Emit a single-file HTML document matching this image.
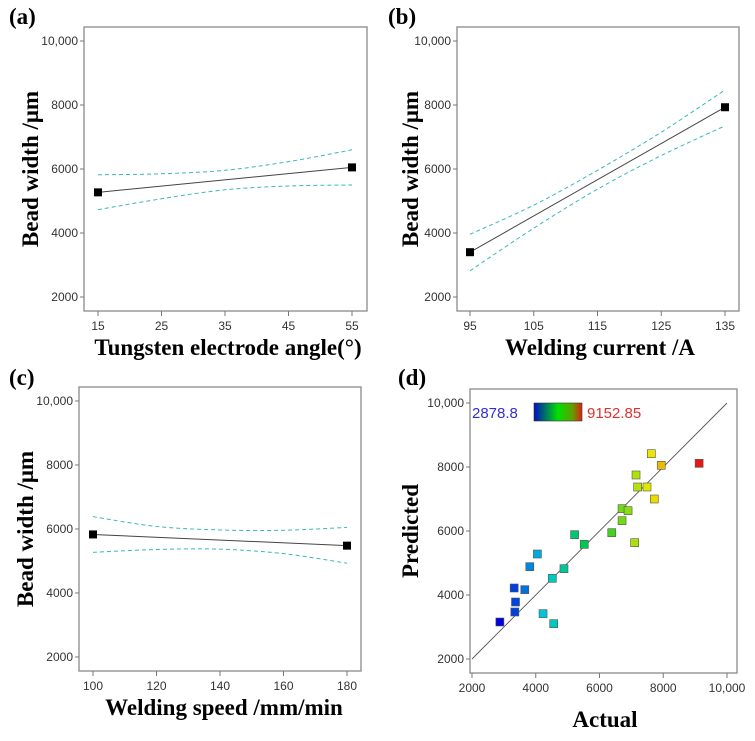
<!DOCTYPE html>
<html><head><meta charset="utf-8"><style>
body{margin:0;background:#fff;width:755px;height:736px;overflow:hidden}
svg text{font-family:"Liberation Sans",Arial,sans-serif}
.ser{font-family:"Liberation Serif","Times New Roman",serif;font-weight:bold}
</style></head><body>
<svg id="fig" width="755" height="736" xmlns="http://www.w3.org/2000/svg"></svg>
<script>
// Panel (a)
const aX=[15,25,35,45,55];
const aUpper=[5820,5850,5960,6230,6600];
const aLower=[4730,5070,5350,5470,5500];
const aEnds=[5270,6050];
const aTicks=[15,25,35,45,55];
// Panel (b)
const bX=[95,105,115,125,135];
const bUpper=[3960,4870,5960,7150,8470];
const bLower=[2820,4150,5370,6420,7350];
const bEnds=[3400,7930];
const bTicks=[95,105,115,125,135];
// Panel (c)
const cX=[100,120,140,160,180];
const cUpper=[6385,6080,5970,5960,6050];
const cLower=[5270,5360,5370,5230,4930];
const cEnds=[5830,5480];
const cTicks=[100,120,140,160,180];
const yTicks=[2000,4000,6000,8000,10000];
const yTickLabels=["2000","4000","6000","8000","10,000"];
// Panel (d)
const dActual=[7625,7937,9125,7146,7198,7490,7719,6708,6896,6708,6385,7104,5219,5521,4052,3813,4885,4521,3323,3656,3365,3344,4229,4563,2875];
const dPred=[8416,8052,8115,7750,7375,7375,7000,6698,6635,6323,5948,5635,5885,5583,5281,4885,4823,4521,4219,4167,3781,3469,3417,3104,3156];
const dTicks=[2000,4000,6000,8000,10000];
const dTickLabels=["2000","4000","6000","8000","10,000"];
const cMin=2878.8, cMax=9152.85;

const NS="http://www.w3.org/2000/svg";
const svg=document.getElementById('fig');
function mk(tag,attrs,parent){const e=document.createElementNS(NS,tag);for(const k in attrs)e.setAttribute(k,attrs[k]);(parent||svg).appendChild(e);return e;}
function txt(s,attrs,parent){const e=mk('text',attrs,parent);e.textContent=s;return e;}
function smooth(pts){let d='M'+pts[0][0]+','+pts[0][1];for(let i=0;i<pts.length-1;i++){const p0=pts[Math.max(0,i-1)],p1=pts[i],p2=pts[i+1],p3=pts[Math.min(pts.length-1,i+2)];const c1=[p1[0]+(p2[0]-p0[0])/6,p1[1]+(p2[1]-p0[1])/6],c2=[p2[0]-(p3[0]-p1[0])/6,p2[1]-(p3[1]-p1[1])/6];d+=` C${c1[0]},${c1[1]} ${c2[0]},${c2[1]} ${p2[0]},${p2[1]}`;}return d;}

function axes(g,box,xs,ys,xTicks,xLabels){
  const r=mk('rect',{x:box.l,y:box.t,width:box.r-box.l,height:box.b-box.t,fill:'none',stroke:'#8a8a8a','stroke-width':1.3},g);
  
  
  yTicks.forEach((v,i)=>{
    const y=ys(v);
    mk('line',{x1:box.l-4,x2:box.l,y1:y,y2:y,stroke:'#777'},g);
    const t=txt(yTickLabels[i],{x:box.l-6,y:y+4,'text-anchor':'end','font-size':12,fill:'#333'},g);
    
    
  });
  xTicks.forEach((v,i)=>{
    const x=xs(v);
    mk('line',{x1:x,x2:x,y1:box.b,y2:box.b+5,stroke:'#777'},g);
    const t=txt(xLabels[i],{x:x,y:box.b+19,'text-anchor':'middle','font-size':12,fill:'#333'},g);
    
    
  });
}
function titles(g,letter,lx,ly,ytitle,ytx,yty,xtitle,xtx,xty){
  const L=txt(letter,{x:lx,y:ly,class:'ser','font-size':23},g);
  
  
  const Y=txt(ytitle,{x:0,y:0,class:'ser','font-size':23,'text-anchor':'middle',transform:`translate(${ytx},${yty}) rotate(-90)`},g);
  
  
  const X=txt(xtitle,{x:xtx,y:xty,class:'ser','font-size':23,'text-anchor':'middle'},g);
  
  
}
function effectPanel(name,box,x0,x1,px0,px1,xv,up,lo,ends,ticks,letter,lx,ly,ytx,xtitle,xtx,xty,yTop,yBot){
  const g=mk('g',{});
  
  
  const xs=v=>px0+(v-x0)/(x1-x0)*(px1-px0);
  const ys=v=>yBot-(v-2000)/8000*(yBot-yTop);
  axes(g,box,xs,ys,ticks,ticks.map(String));
  [up,lo].forEach((arr,k)=>{
    const p=mk('path',{d:smooth(xv.map((v,i)=>[xs(v),ys(arr[i])])),fill:'none',stroke:'#3bb8b8','stroke-width':1,'stroke-dasharray':'4,3'},g);
    
    
  });
  const ln=mk('line',{x1:xs(x0),y1:ys(ends[0]),x2:xs(x1),y2:ys(ends[1]),stroke:'#444','stroke-width':1},g);
  
  
  [[x0,ends[0]],[x1,ends[1]]].forEach(p=>{
    const s=mk('rect',{x:xs(p[0])-4,y:ys(p[1])-4,width:8,height:8,fill:'#000'},g);
    
    
  });
  titles(g,letter,lx,ly,'Bead width /μm',ytx,(box.t+box.b)/2,xtitle,xtx,xty);
}
effectPanel('panel-a',{l:84,r:367,t:27,b:311},15,55,98,352,aX,aUpper,aLower,aEnds,aTicks,'(a)',9,24,38,'Tungsten electrode angle(°)',228,355,41,297);
effectPanel('panel-b',{l:457,r:739,t:27,b:311},95,135,470,725,bX,bUpper,bLower,bEnds,bTicks,'(b)',388,24,418,'Welding current /A',600,355,41,297);
effectPanel('panel-c',{l:79,r:361,t:387,b:671},100,180,93,347,cX,cUpper,cLower,cEnds,cTicks,'(c)',9,385,33,'Welding speed /mm/min',224,715,401,657);

// Panel d
(function(){
  const g=mk('g',{});
  
  
  const box={l:470,r:737,t:389,b:673};
  const xs=v=>472+(v-2000)/8000*255;
  const ys=v=>659-(v-2000)/8000*256;
  axes(g,box,xs,ys,dTicks,dTickLabels);
  const d=mk('line',{x1:xs(2000),y1:ys(2000),x2:xs(10000),y2:ys(10000),stroke:'#555','stroke-width':0.9},g);
  
  
  const stops=[[0,[0,0,220]],[0.22,[0,200,220]],[0.48,[0,200,40]],[0.75,[235,235,0]],[1,[230,20,20]]];
  function col(v){let t=Math.max(0,Math.min(1,(v-cMin)/(cMax-cMin)));for(let i=1;i<stops.length;i++){if(t<=stops[i][0]){const a=stops[i-1],b=stops[i];const f=(t-a[0])/(b[0]-a[0]);const c=a[1].map((x,j)=>Math.round(x+(b[1][j]-x)*f));return `rgb(${c})`;}}return 'rgb(230,20,20)';}
  dActual.forEach((a,i)=>{
    const s=mk('rect',{x:xs(a)-4,y:ys(dPred[i])-4,width:8,height:8,fill:col(a),stroke:'#555','stroke-width':0.6},g);
    
    
  });
  const defs=mk('defs',{},g);
  const lg=mk('linearGradient',{id:'cb'},defs);
  [['0','#0010c0'],['0.5','#00e000'],['0.8','#60a000'],['1','#e02010']].forEach(s=>mk('stop',{offset:s[0],'stop-color':s[1]},lg));
  const cb=mk('rect',{x:534,y:403,width:48,height:18,fill:'url(#cb)',stroke:'#333','stroke-width':0.6},g);
  
  
  const t1=txt('2878.8',{x:472,y:418,'font-size':15,fill:'#3030d0'},g);
  
  
  const t2=txt('9152.85',{x:587,y:418,'font-size':15,fill:'#e03030'},g);
  
  
  titles(g,'(d)',398,385,'Predicted',418,531,'Actual',605,727);
})();
</script>
</body></html>
